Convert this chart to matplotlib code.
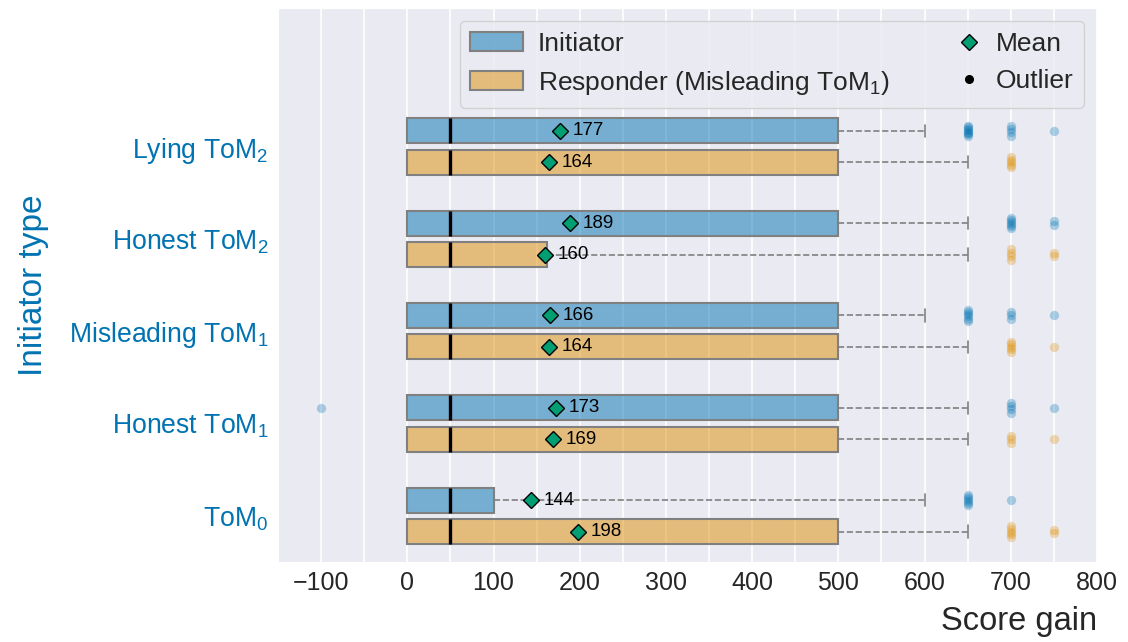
import numpy as np
import matplotlib
matplotlib.use('Agg')
import matplotlib.pyplot as plt
import seaborn as sns
from matplotlib.colors import to_rgba
from matplotlib.patches import Patch
from matplotlib.lines import Line2D
from matplotlib.legend_handler import HandlerLine2D
from matplotlib.ticker import MultipleLocator

sns.set_style('darkgrid')
plt.rcParams['font.family'] = ['Liberation Sans', 'DejaVu Sans']
plt.rcParams['mathtext.default'] = 'regular'

# initiator types, bottom to top
types = ['ToM$_0$', 'Honest ToM$_1$', 'Misleading ToM$_1$', 'Honest ToM$_2$', 'Lying ToM$_2$']

# initiator score gain summary
init_q1 = [0, 0, 0, 0, 0]
init_med = [50, 50, 50, 50, 50]
init_q3 = [100, 500, 500, 500, 500]
init_whishi = [600, 650, 600, 650, 600]
init_mean = [144, 173, 166, 189, 177]
init_out = [{650: 6, 700: 1},
            {-100: 1, 700: 4, 750: 1},
            {650: 6, 700: 3, 750: 1},
            {700: 6, 750: 2},
            {650: 8, 700: 4, 750: 1}]

# responder (misleading ToM1) score gain summary
resp_q1 = [0, 0, 0, 0, 0]
resp_med = [50, 50, 50, 50, 50]
resp_q3 = [500, 500, 500, 162.5, 500]
resp_whishi = [650, 650, 650, 650, 650]
resp_mean = [198, 169, 164, 160, 164]
resp_out = [{700: 5, 750: 2},
            {700: 3, 750: 1},
            {700: 5, 750: 1},
            {700: 4, 750: 2},
            {700: 5}]

blue = '#0173b2'
orange = '#de8f05'
green = '#029e73'

fig = plt.figure(figsize=(11.28, 6.42), dpi=100)
ax = fig.add_axes([278 / 1128, 1 - 562 / 642, 819 / 1128, 554 / 642])

ypos = np.arange(len(types))
off = 0.17
bw = 0.27


def draw_role(q1, med, q3, whishi, mean, outliers, color, pos):
    stats = []
    for i in range(len(q1)):
        stats.append(dict(q1=q1[i], med=med[i], q3=q3[i], whislo=q1[i],
                          whishi=whishi[i], mean=mean[i], fliers=[]))
    ax.bxp(stats, positions=pos, widths=bw, orientation='horizontal',
           patch_artist=True, showmeans=True, showfliers=False,
           capwidths=bw / 2, manage_ticks=False,
           boxprops=dict(facecolor=to_rgba(color, 0.5), edgecolor='gray', linewidth=1.5),
           whiskerprops=dict(color='gray', linestyle='--', linewidth=1.2),
           capprops=dict(color='gray', linewidth=1.2),
           medianprops=dict(color='black', linewidth=2.4),
           meanprops=dict(marker='D', markerfacecolor=green, markeredgecolor='black',
                          markersize=8, markeredgewidth=1))
    for i in range(len(q1)):
        ax.annotate(f'{mean[i]:.0f}', (mean[i], pos[i]), xytext=(9, 0),
                    textcoords='offset points', va='center', fontsize=13.5,
                    color='black', zorder=5)
        # outliers, stacked slightly so repeated values stay visible
        for score, n in outliers[i].items():
            w = min(0.02 * (n - 1), 0.055)
            dy = np.linspace(-w, w, n)
            ax.scatter(np.full(n, score), pos[i] + dy, s=45, color=color,
                       alpha=0.3, linewidths=0, zorder=4)


draw_role(init_q1, init_med, init_q3, init_whishi, init_mean, init_out, blue, ypos + off)
draw_role(resp_q1, resp_med, resp_q3, resp_whishi, resp_mean, resp_out, orange, ypos - off)

ax.set_xlim(-150, 800)
ax.set_ylim(-0.5, 5.5)
ax.xaxis.set_major_locator(MultipleLocator(100))
ax.xaxis.set_minor_locator(MultipleLocator(50))
ax.grid(axis='x', which='both', color='white', linewidth=1.2)
ax.grid(axis='y', visible=False)
ax.tick_params(axis='x', which='both', length=0, labelsize=18, pad=6.5)
ax.set_yticks(ypos)
ax.set_yticklabels(types)
ax.tick_params(axis='y', length=0, labelsize=19.2, labelcolor=blue, pad=7)

ax.set_xlabel('Score gain', fontsize=23.5, loc='right', labelpad=8)
ax.set_ylabel('Initiator type', fontsize=24, color=blue, labelpad=14)


class MarkerRight(HandlerLine2D):
    # puts the single legend marker near the text instead of mid-handle
    def get_xdata(self, legend, xdescent, ydescent, width, height, fontsize):
        x = -xdescent + width - 0.45 * fontsize
        return np.array([x, x]), np.array([x])


h_init = Patch(facecolor=to_rgba(blue, 0.5), edgecolor='gray', linewidth=1.5)
h_resp = Patch(facecolor=to_rgba(orange, 0.5), edgecolor='gray', linewidth=1.5)
h_mean = Line2D([], [], marker='D', linestyle='none', markerfacecolor=green,
                markeredgecolor='black', markersize=8)
h_out = Line2D([], [], marker='o', linestyle='none', color='black', markersize=5.5)
ax.legend([h_init, h_resp, h_mean, h_out],
          ['Initiator', 'Responder (Misleading ToM$_1$)', 'Mean', 'Outlier'],
          ncol=2, loc='upper right', fontsize=19, handlelength=2.0,
          handletextpad=0.57, columnspacing=1.44,
          handler_map={h_mean: MarkerRight(), h_out: MarkerRight()})

fig.savefig('out.png', dpi=100)
